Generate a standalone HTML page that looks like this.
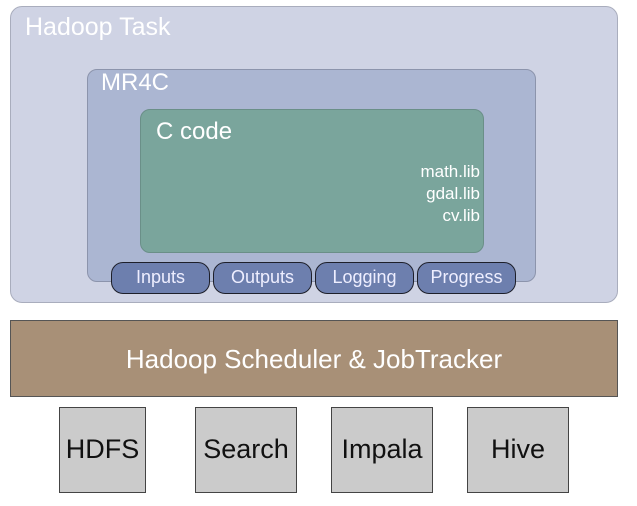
<!DOCTYPE html>
<html><head><style>
body{margin:0;width:637px;height:506px;background:#fff;font-family:"Liberation Sans",sans-serif;position:relative;overflow:hidden}
div{position:absolute;box-sizing:border-box}
.t{color:#fff}
.pill{top:262px;height:32px;width:99px;background:#6d7fae;border:1.5px solid #1d1f2a;border-radius:12px;color:#eef;font-size:18px;text-align:center;line-height:29px}
.b{top:407px;height:86px;width:87px;background:#cbcbcb;border:1.5px solid #444;font-size:27px;text-align:center;line-height:82px;color:#111}
</style></head><body>
<div style="left:10px;top:6px;width:608px;height:297px;background:#cfd3e4;border:1.5px solid #a9adbd;border-radius:12px"></div>
<div class="t" style="left:25px;top:13px;font-size:25px">Hadoop Task</div>
<div style="left:87px;top:69px;width:449px;height:213px;background:#abb6d2;border:1.5px solid #8c94ac;border-radius:10px"></div>
<div class="t" style="left:101px;top:69px;font-size:24px">MR4C</div>
<div style="left:140px;top:109px;width:344px;height:144px;background:#7aa59c;border:1px solid #6a8f88;border-radius:10px"></div>
<div class="t" style="left:156px;top:118px;font-size:24px">C code</div>
<div class="t" style="left:380px;top:161px;width:100px;text-align:right;font-size:17px;line-height:22px">math.lib<br>gdal.lib<br>cv.lib</div>
<div class="pill" style="left:111px">Inputs</div>
<div class="pill" style="left:213px">Outputs</div>
<div class="pill" style="left:315px">Logging</div>
<div class="pill" style="left:417px">Progress</div>
<div style="left:10px;top:320px;width:608px;height:77px;background:#a89077;border:1.5px solid #555;color:#fff;font-size:26px;text-align:center;line-height:76px">Hadoop Scheduler &amp; JobTracker</div>
<div class="b" style="left:59px">HDFS</div>
<div class="b" style="left:195px;width:102px">Search</div>
<div class="b" style="left:331px;width:102px">Impala</div>
<div class="b" style="left:467px;width:102px">Hive</div>
</body></html>
